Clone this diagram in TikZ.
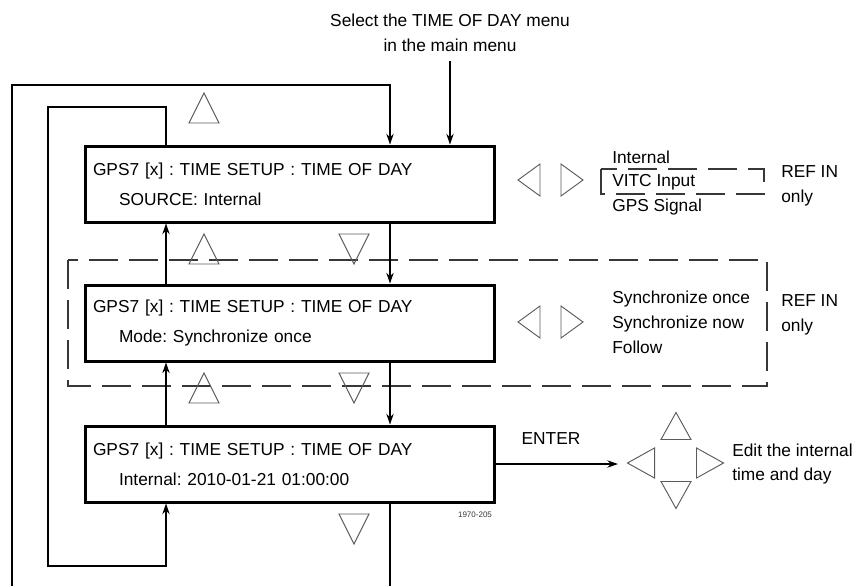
\documentclass[tikz,border=0pt]{standalone}
\usepackage{fontspec}
\setmainfont{Liberation Sans}
\frenchspacing
\definecolor{TriGray}{RGB}{90,90,90}
\definecolor{DashGray}{RGB}{55,55,55}
\usetikzlibrary{
    arrows.meta,
    positioning,
    calc,
}

\begin{document}
\begin{tikzpicture}[
    x=0.75pt, y=-0.75pt,
    menubox/.style={rectangle, draw, line width=2.25pt, minimum width=306.75pt, minimum height=57pt, text width=294.75pt, inner xsep=6pt, align=left, font=\fontsize{13}{22.5}\selectfont},
    lbl/.style={font=\fontsize{13}{16}\selectfont, inner sep=0pt, anchor=base west},
    arr/.style={-{Stealth[length=8pt, width=5.5pt]}, line width=0.9pt},
    wire/.style={line width=0.9pt},
    tri/.style={draw=TriGray, line width=0.7pt},
    grp/.style={draw=DashGray, line width=1.1pt, dash pattern=on 22pt off 8pt},
    pics/uptri/.style={code={\draw[tri] (-15,15) -- (0,-15) -- (15,15) -- cycle;}},
    pics/dntri/.style={code={\draw[tri] (-15,-15) -- (0,15) -- (15,-15) -- cycle;}},
    pics/lftri/.style={code={\draw[tri] (11,-16) -- (-11,0) -- (11,16) -- cycle;}},
    pics/rttri/.style={code={\draw[tri] (-11,-16) -- (11,0) -- (-11,16) -- cycle;}}
]
    \useasboundingbox (0,0) rectangle (860,586);

    \node[menubox] (src)   at (289.5,184) {GPS7 [x] : TIME SETUP : TIME OF DAY\\\hspace*{19.5pt}SOURCE: Internal};
    \node[menubox] (mode)  at (289.5,323) {GPS7 [x] : TIME SETUP : TIME OF DAY\\\hspace*{19.5pt}Mode: Synchronize once};
    \node[menubox] (clock) at (289.5,464) {GPS7 [x] : TIME SETUP : TIME OF DAY\\\hspace*{19.5pt}Internal: 2010-01-21 01:00:00};

    \node[lbl, anchor=base] (sel1) at (450,26) {Select the TIME OF DAY menu};
    \node[lbl, anchor=base] (sel2) at (450,51) {in the main menu};

    \draw[grp] (68,260) rectangle (767,386);
    \draw[grp] (601,169) rectangle (764,194);

    \node[lbl] (int)   at (612,163) {Internal};
    \node[lbl] (vitc)  at (612,186) {VITC Input};
    \node[lbl] (gps)   at (612,211) {GPS Signal};
    \node[lbl] (ref1)  at (781,177) {REF IN};
    \node[lbl] (only1) at (781,202) {only};
    \node[lbl] (once)  at (612,303) {Synchronize once};
    \node[lbl] (now)   at (612,328) {Synchronize now};
    \node[lbl] (fol)   at (612,353) {Follow};
    \node[lbl] (ref2)  at (781,306) {REF IN};
    \node[lbl] (only2) at (781,331) {only};
    \node[lbl, anchor=base] (enter) at (551,444) {ENTER};
    \node[lbl] (edit1) at (732,456) {Edit the internal};
    \node[lbl] (edit2) at (732,480) {time and day};
    \node[font=\fontsize{6}{7}\selectfont, inner sep=0pt, text=DashGray] (fig) at (475,515) {1970-205};

    \coordinate (rx) at (390,0);
    \coordinate (lx) at (166,0);
    \coordinate (otop) at (12,85);
    \coordinate (obot) at (12,586);
    \coordinate (itop) at (48,107);
    \coordinate (ibot) at (48,566);
    \coordinate (keys) at (618,0);

    \draw[arr] ([yshift=-7pt]sel2.south) -- (sel2.south |- src.north);
    \draw[arr] (obot) |- (otop -| rx) -- (src.north -| rx);
    \draw[wire] (clock.south -| rx) -- (rx |- obot);
    \draw[arr] (src.north -| lx) |- (itop) -- (ibot) -| (clock.south -| lx);
    \draw[arr] (mode.north -| lx) -- (src.south -| lx);
    \draw[arr] (clock.north -| lx) -- (mode.south -| lx);
    \draw[arr] (src.south -| rx) -- (mode.north -| rx);
    \draw[arr] (mode.south -| rx) -- (clock.north -| rx);
    \draw[arr] (clock.east) -- (clock.east -| keys);

    \pic at (204,108) {uptri};
    \pic at (204,249) {uptri};
    \pic at (204,388) {uptri};
    \pic at (354,249) {dntri};
    \pic at (354,388) {dntri};
    \pic at (354,529) {dntri};
    \pic at (529,180) {lftri};
    \pic at (572,180) {rttri};
    \pic at (529,322) {lftri};
    \pic at (572,322) {rttri};
    \pic[yscale=0.9] at (676,426) {uptri};
    \pic[yscale=0.9] at (676,495) {dntri};
    \pic[xscale=1.23, yscale=0.94] at (641,463) {lftri};
    \pic[xscale=1.23, yscale=0.94] at (710,463) {rttri};
\end{tikzpicture}
\end{document}
